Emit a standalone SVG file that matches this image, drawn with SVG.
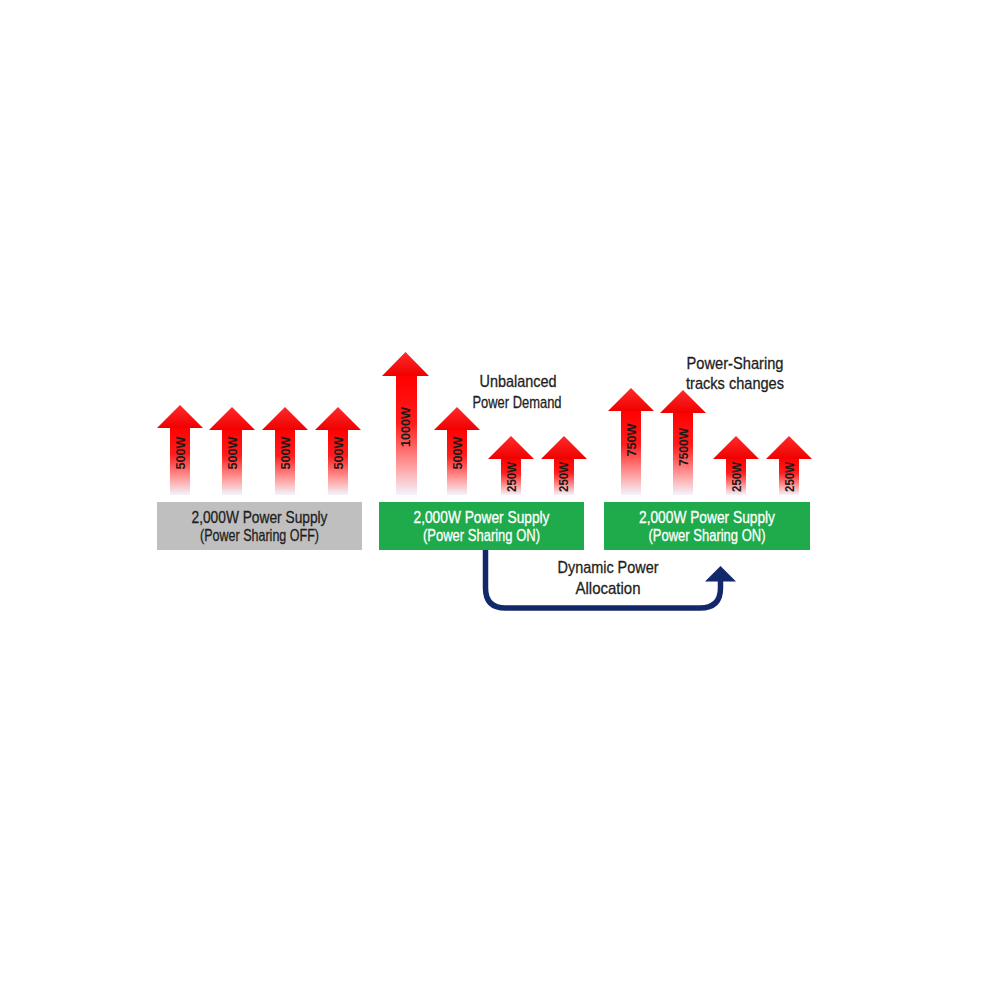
<svg xmlns="http://www.w3.org/2000/svg" width="1000" height="1000" viewBox="0 0 1000 1000">
  <defs>
    <linearGradient id="shaft" x1="0" y1="0" x2="0" y2="1">
      <stop offset="0" stop-color="#ff0000"/>
      <stop offset="0.4" stop-color="#ff1c1c"/>
      <stop offset="0.75" stop-color="#ff9a9a"/>
      <stop offset="1" stop-color="#f3f4fb"/>
    </linearGradient>
    <linearGradient id="head" x1="0" y1="0" x2="0" y2="1">
      <stop offset="0" stop-color="#ff2a2a"/>
      <stop offset="1" stop-color="#f00000"/>
    </linearGradient>
    <style>
      .shaft { fill: url(#shaft); }
      .head { fill: url(#head); }
      .lbl { font-family: "Liberation Sans", Arial, sans-serif; font-weight: bold; font-size: 12px; fill: #1a1a1a; text-anchor: middle; dominant-baseline: central; }
      .box-gray { fill: #bfbfbf; }
      .box-green { fill: #1faa4c; }
      .btxt { font-family: "Liberation Sans", Arial, sans-serif; font-size: 16.5px; text-anchor: middle; stroke-width: 0.3px; }
      .dark { fill: #1e1e1e; stroke: #1e1e1e; }
      .white { fill: #ffffff; stroke: #ffffff; }
      .note { font-family: "Liberation Sans", Arial, sans-serif; font-size: 17px; fill: #1e1e1e; stroke: #1e1e1e; stroke-width: 0.3px; text-anchor: middle; }
      .conn { fill: none; stroke: #13286b; stroke-width: 5.5; }
      .connhead { fill: #13286b; }
    </style>
  </defs>
  <rect width="1000" height="1000" fill="#ffffff"/>

  <!-- Group 1: Power Sharing OFF -->
  <g id="supply-off">
    <rect class="box-gray" x="157" y="502" width="205" height="48"/>
    <text class="btxt dark" x="259.5" y="523" textLength="136" lengthAdjust="spacingAndGlyphs">2,000W Power Supply</text>
    <text class="btxt dark" x="259.5" y="541" textLength="119" lengthAdjust="spacingAndGlyphs">(Power Sharing OFF)</text>
  </g>
  <g id="off-a1">
    <rect class="shaft" x="170" y="427" width="20" height="68"/>
    <polygon class="head" points="157,428 203,428 180,405"/>
    <text class="lbl" transform="translate(181,453) rotate(-90)" textLength="33" lengthAdjust="spacingAndGlyphs">500W</text>
  </g>
  <g id="off-a2">
    <rect class="shaft" x="222" y="429" width="20" height="66"/>
    <polygon class="head" points="209,430 255,430 232,407"/>
    <text class="lbl" transform="translate(233,453) rotate(-90)" textLength="33" lengthAdjust="spacingAndGlyphs">500W</text>
  </g>
  <g id="off-a3">
    <rect class="shaft" x="275" y="429" width="20" height="66"/>
    <polygon class="head" points="262,430 308,430 285,407"/>
    <text class="lbl" transform="translate(286,453) rotate(-90)" textLength="33" lengthAdjust="spacingAndGlyphs">500W</text>
  </g>
  <g id="off-a4">
    <rect class="shaft" x="328" y="429" width="20" height="66"/>
    <polygon class="head" points="315,430 361,430 338,407"/>
    <text class="lbl" transform="translate(339,453) rotate(-90)" textLength="33" lengthAdjust="spacingAndGlyphs">500W</text>
  </g>

  <!-- Group 2: Power Sharing ON, unbalanced -->
  <g id="supply-on-1">
    <rect class="box-green" x="379" y="502" width="205" height="48"/>
    <text class="btxt white" x="481.5" y="523" textLength="136" lengthAdjust="spacingAndGlyphs">2,000W Power Supply</text>
    <text class="btxt white" x="481.5" y="541" textLength="117" lengthAdjust="spacingAndGlyphs">(Power Sharing ON)</text>
  </g>
  <g id="on1-a1">
    <rect class="shaft" x="396" y="375" width="21" height="120"/>
    <polygon class="head" points="382,376 429,376 405.5,352"/>
    <text class="lbl" transform="translate(406,427) rotate(-90)" textLength="40" lengthAdjust="spacingAndGlyphs">1000W</text>
  </g>
  <g id="on1-a2">
    <rect class="shaft" x="447" y="429" width="20" height="66"/>
    <polygon class="head" points="434,430 480,430 457,407"/>
    <text class="lbl" transform="translate(458,453) rotate(-90)" textLength="33" lengthAdjust="spacingAndGlyphs">500W</text>
  </g>
  <g id="on1-a3">
    <rect class="shaft" x="501" y="458" width="20" height="37"/>
    <polygon class="head" points="488,459 534,459 511,436"/>
    <text class="lbl" transform="translate(512,477) rotate(-90)" textLength="30" lengthAdjust="spacingAndGlyphs">250W</text>
  </g>
  <g id="on1-a4">
    <rect class="shaft" x="554" y="458" width="20" height="37"/>
    <polygon class="head" points="541,459 587,459 564,436"/>
    <text class="lbl" transform="translate(564,477) rotate(-90)" textLength="30" lengthAdjust="spacingAndGlyphs">250W</text>
  </g>
  <g id="note-unbalanced">
    <text class="note" x="518" y="387" textLength="77" lengthAdjust="spacingAndGlyphs">Unbalanced</text>
    <text class="note" x="517" y="408" textLength="89" lengthAdjust="spacingAndGlyphs">Power Demand</text>
  </g>

  <!-- Group 3: Power Sharing ON, tracks changes -->
  <g id="supply-on-2">
    <rect class="box-green" x="604" y="502" width="206" height="48"/>
    <text class="btxt white" x="707" y="523" textLength="136" lengthAdjust="spacingAndGlyphs">2,000W Power Supply</text>
    <text class="btxt white" x="707" y="541" textLength="117" lengthAdjust="spacingAndGlyphs">(Power Sharing ON)</text>
  </g>
  <g id="on2-a1">
    <rect class="shaft" x="621" y="410" width="20" height="85"/>
    <polygon class="head" points="608,411 654,411 631,388"/>
    <text class="lbl" transform="translate(632,440) rotate(-90)" textLength="33" lengthAdjust="spacingAndGlyphs">750W</text>
  </g>
  <g id="on2-a2">
    <rect class="shaft" x="673" y="412" width="20" height="83"/>
    <polygon class="head" points="660,413 706,413 683,390"/>
    <text class="lbl" transform="translate(684,447) rotate(-90)" textLength="38" lengthAdjust="spacingAndGlyphs">7500W</text>
  </g>
  <g id="on2-a3">
    <rect class="shaft" x="726" y="458" width="20" height="37"/>
    <polygon class="head" points="713,459 759,459 736,436"/>
    <text class="lbl" transform="translate(737,477) rotate(-90)" textLength="30" lengthAdjust="spacingAndGlyphs">250W</text>
  </g>
  <g id="on2-a4">
    <rect class="shaft" x="779" y="458" width="20" height="37"/>
    <polygon class="head" points="766,459 812,459 789,436"/>
    <text class="lbl" transform="translate(790,477) rotate(-90)" textLength="30" lengthAdjust="spacingAndGlyphs">250W</text>
  </g>
  <g id="note-tracks">
    <text class="note" x="735" y="369" textLength="97" lengthAdjust="spacingAndGlyphs">Power-Sharing</text>
    <text class="note" x="735" y="389" textLength="98" lengthAdjust="spacingAndGlyphs">tracks changes</text>
  </g>

  <!-- Connector -->
  <g id="connectors">
    <path class="conn" d="M485.5,550 V588 Q485.5,608 505.5,608 H700 Q720.5,608 720.5,588 V578"/>
    <polygon class="connhead" points="705,581.5 736,581.5 720.5,566"/>
  </g>
  <g id="note-dynamic">
    <text class="note" x="608" y="573" textLength="101" lengthAdjust="spacingAndGlyphs">Dynamic Power</text>
    <text class="note" x="608" y="594" textLength="65" lengthAdjust="spacingAndGlyphs">Allocation</text>
  </g>
</svg>
